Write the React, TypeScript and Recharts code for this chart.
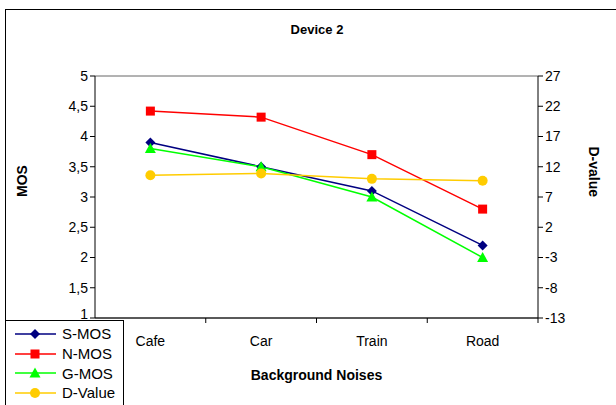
import { LineChart, Line, XAxis, YAxis, CartesianGrid } from 'recharts';

const categories = ['Cafe', 'Car', 'Train', 'Road'];
const sMos = [3.9, 3.5, 3.1, 2.2];
const nMos = [4.42, 4.32, 3.7, 2.8];
const gMos = [3.8, 3.5, 3.0, 2.0];
const dValue = [10.6, 10.9, 10.0, 9.7];
const mosTicks = [1, 1.5, 2, 2.5, 3, 3.5, 4, 4.5, 5];
const dTicks = [-13, -8, -3, 2, 7, 12, 17, 22, 27];

const data = categories.map((name, i) => ({
  name,
  sMos: sMos[i],
  nMos: nMos[i],
  gMos: gMos[i],
  dValue: dValue[i],
}));

const series = [
  { key: 'sMos', label: 'S-MOS', color: '#000080', shape: 'diamond', axis: 'mos' },
  { key: 'nMos', label: 'N-MOS', color: '#ff0000', shape: 'square', axis: 'mos' },
  { key: 'gMos', label: 'G-MOS', color: '#00ff00', shape: 'triangle', axis: 'mos' },
  { key: 'dValue', label: 'D-Value', color: '#ffcc00', shape: 'circle', axis: 'd' },
];

const font = 'Arial, "Liberation Sans", sans-serif';
const bandWidth = 443 / 4;

function Marker({ cx, cy, shape, color }: any) {
  if (cx == null || cy == null) return null;
  if (shape === 'diamond')
    return <polygon points={`${cx},${cy - 5} ${cx + 5},${cy} ${cx},${cy + 5} ${cx - 5},${cy}`} fill={color} />;
  if (shape === 'square') return <rect x={cx - 4.5} y={cy - 4.5} width={9} height={9} fill={color} />;
  if (shape === 'triangle')
    return <polygon points={`${cx},${cy - 5.5} ${cx + 5.5},${cy + 4.5} ${cx - 5.5},${cy + 4.5}`} fill={color} />;
  return <circle cx={cx} cy={cy} r={5} fill={color} />;
}

function CategoryTick({ x, y, payload }: any) {
  return (
    <g>
      <line x1={x + bandWidth / 2} x2={x + bandWidth / 2} y1={y - 8} y2={y - 3} stroke="#000" />
      <text x={x} y={y + 20} textAnchor="middle" fontSize={14} fontFamily={font} fill="#000">
        {payload.value}
      </text>
    </g>
  );
}

// the bottom "1" sits just above the legend box
function MosTick({ x, y, payload }: any) {
  const dy = payload.value === 1 ? -4 : 0;
  return (
    <text x={x} y={y + dy} dy="0.355em" textAnchor="end" fontSize={14} fontFamily={font} fill="#000">
      {String(payload.value).replace('.', ',')}
    </text>
  );
}

function LegendBox() {
  return (
    <div
      style={{
        position: 'absolute',
        left: 5,
        top: 320,
        background: '#fff',
        border: '1px solid #000',
        width: 119,
        height: 100,
        fontFamily: font,
        fontSize: 15,
        boxSizing: 'border-box',
        paddingTop: 3,
      }}
    >
      {series.map((s) => (
        <div key={s.key} style={{ display: 'flex', alignItems: 'center', height: 19.7 }}>
          <svg width={56} height={14}>
            <line x1={9} x2={50} y1={7} y2={7} stroke={s.color} strokeWidth={1.5} />
            <Marker cx={29} cy={7} shape={s.shape} color={s.color} />
          </svg>
          <span style={{ color: '#000' }}>{s.label}</span>
        </div>
      ))}
    </div>
  );
}

export default function App() {
  return (
    <div
      style={{
        position: 'absolute',
        left: 0,
        top: 0,
        width: 616,
        height: 405,
        overflow: 'hidden',
        background: '#fff',
        fontFamily: font,
      }}
    >
      <div
        style={{
          position: 'absolute',
          left: 5,
          top: 9,
          width: 700,
          height: 500,
          border: '1px solid #000',
        }}
      />
      <div
        style={{
          position: 'absolute',
          top: 22,
          left: 0,
          width: 634,
          textAlign: 'center',
          fontWeight: 'bold',
          fontSize: 13,
        }}
      >
        Device 2
      </div>
      <div style={{ position: 'absolute', left: 0, top: 0 }}>
        <LineChart width={616} height={405} data={data} margin={{ top: 76, right: 0, bottom: 0, left: 0 }}>
          <CartesianGrid vertical={false} stroke="#666" />
          <XAxis
            dataKey="name"
            height={87}
            stroke="#000"
            tickLine={false}
            tick={<CategoryTick />}
            interval={0}
            padding={{ left: bandWidth / 2, right: bandWidth / 2 }}
            label={{
              value: 'Background Noises',
              position: 'insideTop',
              offset: 52,
              fontWeight: 'bold',
              fontSize: 14,
              fill: '#000',
              fontFamily: font,
            }}
          />
          <YAxis
            yAxisId="mos"
            width={95}
            domain={[1, 5]}
            ticks={mosTicks}
            interval={0}
            stroke="#000"
            tickSize={5}
            tick={<MosTick />}
            label={{
              value: 'MOS',
              angle: -90,
              position: 'insideLeft',
              offset: 22,
              fontWeight: 'bold',
              fontSize: 14,
              fill: '#000',
              fontFamily: font,
            }}
          />
          <YAxis
            yAxisId="d"
            orientation="right"
            width={78}
            domain={[-13, 27]}
            ticks={dTicks}
            interval={0}
            stroke="#000"
            tickSize={5}
            tick={{ fontSize: 14, fill: '#000', fontFamily: font }}
            label={{
              value: 'D-value',
              angle: 90,
              position: 'insideRight',
              offset: 22,
              fontWeight: 'bold',
              fontSize: 14,
              fill: '#000',
              fontFamily: font,
            }}
          />
          {series.map((s) => (
            <Line
              key={s.key}
              yAxisId={s.axis}
              dataKey={s.key}
              name={s.label}
              stroke={s.color}
              strokeWidth={1.5}
              isAnimationActive={false}
              dot={(p: any) => <Marker key={`${s.key}-${p.index}`} cx={p.cx} cy={p.cy} shape={s.shape} color={s.color} />}
              activeDot={false}
            />
          ))}
        </LineChart>
      </div>
      <LegendBox />
    </div>
  );
}
